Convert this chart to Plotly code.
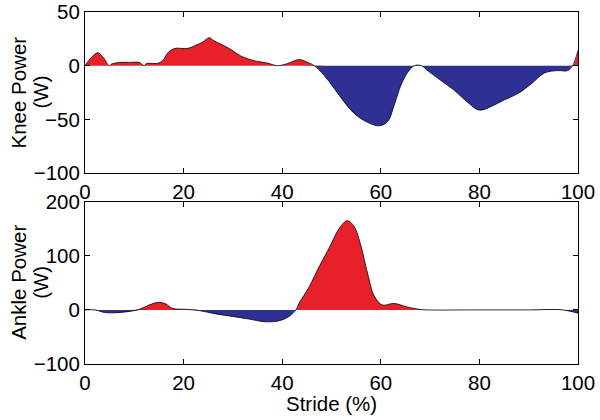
import plotly.graph_objects as go
from plotly.subplots import make_subplots
import numpy as np

# knee power (W) vs stride (%)
knee_x = [0, 1.2, 2.6, 3.8, 4.9, 5.4, 7, 9, 11, 12, 12.5, 14, 15, 16, 16.8, 18.2, 20.7,
          22.5, 23.9, 25.2, 26.2, 27.6, 29.6, 31.6, 34.3, 37, 39, 41.1, 43.1, 43.8,
          45.2, 46.5, 48.5, 50.6, 52.6, 54.6, 57.3, 59.7, 61.4, 62.7, 64.1, 65.5,
          66.8, 68.2, 69.5, 72.2, 74.9, 77.6, 80, 82.4, 85, 87.8, 90.5, 93.2, 95.9,
          97.9, 98.9, 100]
knee_y = [0, 7, 12, 7, 0, 1.5, 3, 3, 3, 0, 2, 2, 2.5, 6, 12, 16, 16,
          19, 22, 26, 23, 20, 15, 9, 4.6, 2.4, 0, 2, 5.5, 5.5,
          3, 0, -9, -21.5, -34, -44.5, -52.8, -56, -52, -37, -18, -6,
          0, 0, -4.6, -13.8, -23, -34, -41.4, -38, -32, -26, -17, -6.8, -4.6,
          -4.6, 0, 14]

# ankle power (W) vs stride (%)
ankle_x = [0, 2, 4.2, 8.3, 11, 13, 14.9, 16.4, 17.7, 20.4, 23.1, 26.5, 29.9, 33.3,
           36.7, 39.4, 41.4, 42.8, 43.4, 45.5, 47.5, 49.5, 51.6, 53.2, 54.6, 56,
           57.3, 58.7, 60.3, 62.7, 65.1, 67.8, 69.2, 80, 90, 96.9, 100]
ankle_y = [0, 0, -5, -3.7, 1, 9, 14, 11, 3, 1, -1, -7.4, -12, -17,
           -22, -20, -12, 0, 12, 43, 80, 114, 151, 165, 154, 117,
           68, 25, 9, 12, 6, 1, 0, 0, 0, 0, -6]

RED = "#E8202A"
BLUE = "#2E3192"
FONT = "Liberation Sans, Arial, sans-serif"
FS = 20.5

fig = make_subplots(rows=2, cols=1, vertical_spacing=0.0)

for row, (xs, ys) in enumerate([(knee_x, knee_y), (ankle_x, ankle_y)], start=1):
    ys = np.array(ys, dtype=float)
    fig.add_trace(go.Scatter(x=xs, y=np.maximum(ys, 0), mode="lines", fill="tozeroy",
                             line=dict(color=RED, width=0), fillcolor=RED,
                             line_shape="spline", showlegend=False), row=row, col=1)
    fig.add_trace(go.Scatter(x=xs, y=np.minimum(ys, 0), mode="lines", fill="tozeroy",
                             line=dict(color=BLUE, width=0), fillcolor=BLUE,
                             line_shape="spline", showlegend=False), row=row, col=1)
    fig.add_trace(go.Scatter(x=xs, y=ys, mode="lines", line=dict(color="black", width=0.8),
                             line_shape="spline", showlegend=False), row=row, col=1)

axis_style = dict(showline=True, linecolor="black", linewidth=1, mirror="ticks",
                  ticks="inside", ticklen=5, tickcolor="black", showgrid=False,
                  zeroline=False, automargin=False, ticklabeloverflow="allow",
                  tickfont=dict(size=FS, color="black", family=FONT))

fig.update_xaxes(range=[0, 100], tickvals=[0, 20, 40, 60, 80, 100], **axis_style)
fig.update_yaxes(**axis_style)
fig.update_yaxes(range=[-100, 50], tickvals=[-100, -50, 0, 50], domain=[0.5426, 1], row=1, col=1)
fig.update_yaxes(range=[-100, 200], tickvals=[-100, 0, 100, 200], domain=[0, 0.4611], row=2, col=1)

# y titles: two lines each, set close together
for ymid, label in [(0.7713, "Knee Power"), (0.2306, "Ankle Power")]:
    for text, shift in [(label, -66), ("(W)", -44)]:
        fig.add_annotation(text=text, textangle=-90, xref="paper", yref="paper",
                           x=0, y=ymid, xanchor="center", yanchor="middle", xshift=shift,
                           showarrow=False, font=dict(size=FS, color="black", family=FONT))

fig.add_annotation(text="Stride (%)", xref="paper", yref="paper", x=0.5, y=0,
                   xanchor="center", yanchor="middle", yshift=-39, showarrow=False,
                   font=dict(size=FS, color="black", family=FONT))

fig.update_layout(width=600, height=420, margin=dict(l=85, r=22, t=12, b=56),
                  plot_bgcolor="white", paper_bgcolor="white",
                  font=dict(family=FONT, color="black"))

# drop the page's default body margin so the figure fills the window
fig.write_html("out.html", config={"displayModeBar": False},
               post_script="document.body.style.margin='0';")
